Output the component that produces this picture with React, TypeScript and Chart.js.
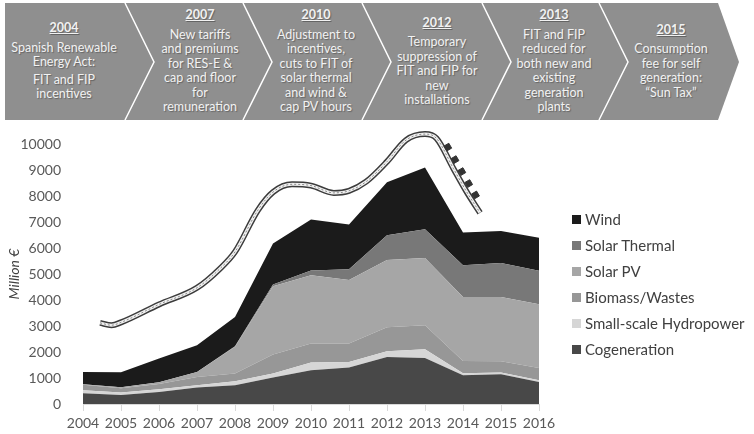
import React, { useEffect, useRef } from "react";
import { Chart, registerables } from "chart.js";

Chart.register(...registerables);

const years = [2004, 2005, 2006, 2007, 2008, 2009, 2010, 2011, 2012, 2013, 2014, 2015, 2016];

const cogeneration = [410, 350, 460, 630, 720, 1015, 1300, 1400, 1810, 1770, 1105, 1145, 850];
const smallHydro = [120, 95, 105, 90, 155, 155, 295, 220, 220, 335, 75, 65, 60];
const biomass = [210, 165, 200, 320, 295, 730, 730, 705, 925, 925, 475, 435, 475];
const solarPV = [20, 30, 70, 190, 1030, 2630, 2630, 2440, 2580, 2590, 2465, 2475, 2455];
const solarThermal = [0, 0, 0, 0, 20, 70, 180, 420, 960, 1105, 1220, 1300, 1285];
const wind = [470, 580, 915, 1030, 1130, 1575, 1965, 1720, 2030, 2375, 1260, 1230, 1270];

const seriesNames = ["Cogeneration", "Small-scale Hydropower", "Biomass/Wastes", "Solar PV", "Solar Thermal", "Wind"];
const seriesColors = ["#484848", "#d6d6d6", "#979797", "#a6a6a6", "#787878", "#1b1b1b"];
const seriesValues = [cogeneration, smallHydro, biomass, solarPV, solarThermal, wind];

const yTicks = [0, 1000, 2000, 3000, 4000, 5000, 6000, 7000, 8000, 9000, 10000];

// decorative "roller coaster" trend line
const coasterX = [2004.45, 2004.75, 2005, 2006, 2007, 2007.6, 2008, 2008.6, 2009, 2009.5, 2010, 2010.6, 2011, 2011.45, 2012, 2012.5, 2013, 2013.3, 2013.75, 2014.1, 2014.45];
const coasterY = [3120, 3030, 3140, 3830, 4470, 5200, 5850, 7450, 8150, 8450, 8400, 8120, 8200, 8550, 9320, 10150, 10380, 10220, 9050, 8150, 7350];
const carsX = [2013.37, 2013.6, 2013.79, 2013.97, 2014.15, 2014.33];
const carsY = [10450, 9880, 9400, 8940, 8480, 8040];

const banner = [
  { year: "2004", lines: ["Spanish Renewable", "Energy Act:", "", "FIT and FIP", "incentives"], cx: 64 },
  { year: "2007", lines: ["New tariffs", "and premiums", "for RES-E &", "cap and floor", "for", "remuneration"], cx: 200 },
  { year: "2010", lines: ["Adjustment to", "incentives,", "cuts to FIT of", "solar thermal", "and wind &", "cap PV hours"], cx: 316 },
  { year: "2012", lines: ["Temporary", "suppression of", "FIT and FIP for", "new", "installations"], cx: 437 },
  { year: "2013", lines: ["FIT and FIP", "reduced for", "both new and", "existing", "generation", "plants"], cx: 554 },
  { year: "2015", lines: ["Consumption", "fee for self", "generation:", "\u201cSun Tax\u201d"], cx: 671 },
];
const separatorsX = [125, 243, 362, 482, 599];

const FONT = "Lato, 'Open Sans', sans-serif";

export default function App() {
  const ref = useRef<HTMLCanvasElement | null>(null);

  useEffect(() => {
    if (!ref.current) return;
    const areaSets = seriesValues.map((vals, i) => ({
      label: seriesNames[i],
      data: vals.map((v, j) => ({ x: years[j], y: v })),
      backgroundColor: seriesColors[i],
      borderColor: seriesColors[i],
      borderWidth: 0,
      pointRadius: 0,
      fill: i === 0 ? "origin" : "-1",
      tension: 0,
      yAxisID: "y",
      order: 10,
    }));
    const coasterPts = coasterX.map((x, i) => ({ x, y: coasterY[i] }));
    const rail = (color: string, width: number, order: number, dash: number[] = []) => ({
      label: "_rail",
      data: coasterPts,
      borderColor: color,
      borderWidth: width,
      borderDash: dash,
      pointRadius: 0,
      fill: false,
      cubicInterpolationMode: "monotone" as const,
      yAxisID: "y2",
      clip: false as any,
      order,
    });
    const chart = new Chart(ref.current, {
      type: "line",
      data: {
        datasets: [
          ...areaSets,
          rail("#3c3c3c", 6, 4),
          rail("#f0f0f0", 3, 3),
          rail("#8a8a8a", 1, 2, [2, 2]),
          {
            label: "_cars",
            data: carsX.map((x, i) => ({ x, y: carsY[i] })),
            showLine: false,
            pointStyle: "rect",
            pointRadius: 4,
            pointRotation: 60,
            backgroundColor: "#333333",
            borderColor: "#333333",
            yAxisID: "y2",
            clip: false as any,
            order: 0,
          } as any,
        ],
      },
      options: {
        responsive: false,
        animation: false,
        layout: { padding: { top: 144, right: 215, bottom: 0, left: 0 } },
        plugins: { legend: { display: false }, tooltip: { enabled: false } },
        scales: {
          x: {
            type: "linear",
            min: 2004,
            max: 2016,
            ticks: {
              stepSize: 1,
              autoSkip: false,
              maxRotation: 0,
              minRotation: 0,
              callback: (v: any) => String(v),
              color: "#595959",
              font: { family: FONT, size: 14 },
              padding: 4,
            },
            grid: { display: true, drawOnChartArea: false, drawTicks: true, tickLength: 7, color: "#d9d9d9" },
            border: { display: true, color: "#d9d9d9" },
            afterFit: (s: any) => {
              s.height = 30;
            },
          },
          y: {
            stacked: true,
            min: 0,
            max: 10000,
            afterBuildTicks: (s: any) => {
              s.ticks = yTicks.map((v) => ({ value: v }));
            },
            ticks: {
              callback: (v: any) => String(v),
              color: "#595959",
              font: { family: FONT, size: 14 },
              padding: 14,
            },
            grid: { display: false },
            border: { display: false },
            title: {
              display: true,
              text: "Million \u20ac",
              color: "#404040",
              font: { family: FONT, size: 14, style: "italic" },
              padding: { top: 6, bottom: 4 },
            },
            afterFit: (s: any) => {
              s.width = 83;
            },
          },
          y2: { display: false, min: 0, max: 10000 },
        },
      },
    });
    return () => chart.destroy();
  }, []);

  const legendItems = seriesNames.map((n, i) => ({ n, c: seriesColors[i] })).reverse();

  return (
    <div style={{ position: "absolute", left: 0, top: 0, width: 754, height: 434, background: "#fff", overflow: "hidden", fontFamily: FONT }}>
      <svg width={754} height={434} style={{ position: "absolute", left: 0, top: 0 }}>
        <polygon points="5,3 718,3 739,62 718,120 5,120" fill="#8f8f8f" />
        {separatorsX.map((x) => (
          <polyline key={x} points={`${x},3 ${x + 29},62 ${x},120`} fill="none" stroke="#ffffff" strokeWidth={1.5} />
        ))}
      </svg>
      {banner.map((b) => (
        <div
          key={b.year}
          style={{
            position: "absolute",
            left: b.cx - 65,
            width: 130,
            top: 3,
            height: 117,
            display: "flex",
            flexDirection: "column",
            justifyContent: "center",
            alignItems: "center",
            color: "#f2f2f2",
            fontSize: 12.5,
            lineHeight: "14.5px",
            textAlign: "center",
            textShadow: "1px 1px 1px rgba(0,0,0,0.3)",
          }}
        >
          <div style={{ fontWeight: 700, textDecoration: "underline", marginBottom: 5 }}>{b.year}</div>
          {b.lines.map((l, i) =>
            l === "" ? <div key={i} style={{ height: 3 }} /> : <div key={i} style={{ whiteSpace: "nowrap" }}>{l}</div>
          )}
        </div>
      ))}
      <canvas ref={ref} width={754} height={434} style={{ position: "absolute", left: 0, top: 0 }} />
      <div style={{ position: "absolute", left: 572, top: 206 }}>
        {legendItems.map((it) => (
          <div key={it.n} style={{ display: "flex", alignItems: "center", height: 26 }}>
            <div style={{ width: 9, height: 9, background: it.c, marginRight: 4 }} />
            <span style={{ fontSize: 15, color: "#404040", whiteSpace: "nowrap" }}>{it.n}</span>
          </div>
        ))}
      </div>
    </div>
  );
}
